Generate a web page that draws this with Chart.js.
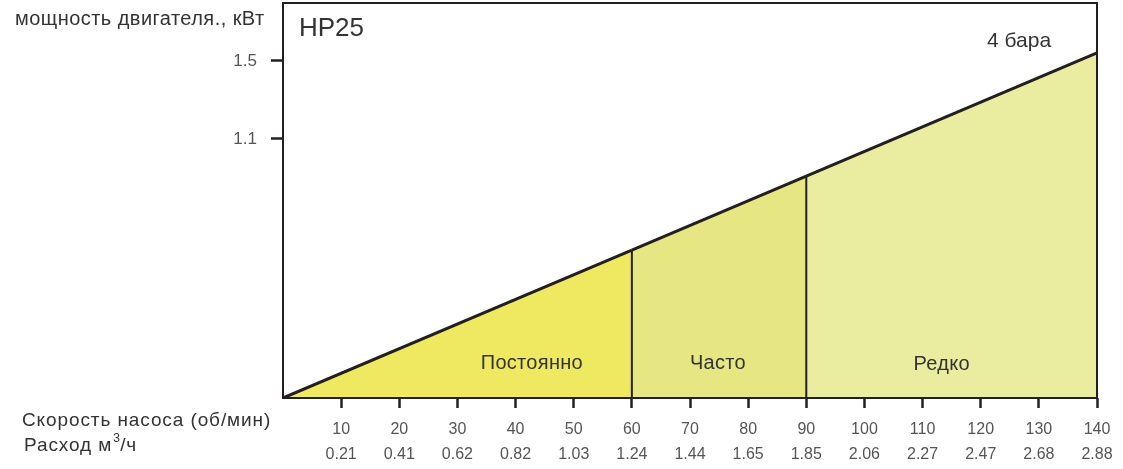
<!DOCTYPE html>
<html>
<head>
<meta charset="utf-8">
<script src="https://cdn.jsdelivr.net/npm/chart.js@4.4.1/dist/chart.umd.min.js"></script>
<style>
  html, body { margin: 0; padding: 0; background: #fff; }
  #wrap { width: 1123px; height: 469px; position: relative; }
</style>
</head>
<body>
<div id="wrap"><canvas id="hpChart"></canvas></div>
<script>
// speed (rev/min) and flow (m3/h) tick labels
const speedTicks = [10, 20, 30, 40, 50, 60, 70, 80, 90, 100, 110, 120, 130, 140];
const flowTicks = ['0.21', '0.41', '0.62', '0.82', '1.03', '1.24', '1.44', '1.65', '1.85', '2.06', '2.27', '2.47', '2.68', '2.88'];
const powerTicks = [1.1, 1.5];

// power curve (kW vs speed)
const curveSpeed = [0, 60, 90, 140];
const curvePower = [-0.228, 0.53, 0.909, 1.541];
const yMin = -0.228;
const yMax = 1.797;

const zoneNames = ['Постоянно', 'Часто', 'Редко'];
const zoneColors = ['#efe962', '#e6e683', '#eaec9f'];

const FONT = '"Liberation Sans", Arial, sans-serif';

const zones = [];
for (let i = 0; i < 3; i++) {
  zones.push({
    label: zoneNames[i],
    data: [
      { x: curveSpeed[i], y: curvePower[i] },
      { x: curveSpeed[i + 1], y: curvePower[i + 1] }
    ],
    backgroundColor: zoneColors[i],
    borderColor: '#231f20',
    borderWidth: 3,
    pointRadius: 0,
    fill: 'start',
    order: 2
  });
}

// vertical separators at 60 and 90
const dividers = [1, 2].map(i => ({
  label: 'div' + i,
  data: [{ x: curveSpeed[i], y: yMin }, { x: curveSpeed[i], y: curvePower[i] }],
  borderColor: '#231f20',
  borderWidth: 2,
  pointRadius: 0,
  fill: false,
  order: 1
}));

const annotations = [
  { text: 'Постоянно', x: 42.8, y: -0.05 },
  { text: 'Часто', x: 74.8, y: -0.05 },
  { text: 'Редко', x: 113.3, y: -0.055 }
];

function text(ctx, str, x, y, size, spacing) {
  ctx.font = size + 'px ' + FONT;
  ctx.letterSpacing = (spacing || 0) + 'px';
  ctx.fillText(str, x, y);
  const w = ctx.measureText(str).width;
  ctx.letterSpacing = '0px';
  return w;
}

const decor = {
  id: 'decor',
  afterDatasetsDraw(chart) {
    const { ctx, chartArea: a, scales } = chart;
    ctx.save();
    ctx.strokeStyle = '#231f20';
    ctx.lineWidth = 2;
    ctx.strokeRect(a.left, a.top, a.right - a.left, a.bottom - a.top);

    ctx.fillStyle = '#333';
    ctx.textBaseline = 'middle';
    ctx.textAlign = 'center';
    annotations.forEach(n => {
      text(ctx, n.text, scales.x.getPixelForValue(n.x), scales.y.getPixelForValue(n.y), 20, 0.3);
    });

    ctx.textAlign = 'left';
    text(ctx, 'HP25', 299, 29, 26, 0);
    text(ctx, '4 бара', 987, 41, 21, 0);

    text(ctx, 'мощность двигателя., кВт', 15, 19, 20, 0.45);
    text(ctx, 'Скорость насоса (об/мин)', 22, 421, 19, 0.9);
    const w = text(ctx, 'Расход м', 24, 446, 19, 0.9);
    text(ctx, '3', 24 + w + 1, 439, 12, 0);
    text(ctx, '/ч', 24 + w + 8, 446, 19, 0.9);
    ctx.restore();
  }
};

new Chart(document.getElementById('hpChart'), {
  type: 'line',
  data: { datasets: [...zones, ...dividers] },
  options: {
    responsive: true,
    maintainAspectRatio: false,
    animation: false,
    layout: { padding: { top: 3, right: 26, left: 0, bottom: 0 } },
    plugins: { legend: { display: false }, tooltip: { enabled: false } },
    scales: {
      x: {
        type: 'linear',
        min: 0,
        max: 140,
        afterBuildTicks: s => { s.ticks = speedTicks.map(v => ({ value: v })); },
        afterFit: s => { s.height = 71; s.paddingLeft = 0; s.paddingRight = 0; },
        border: { display: false },
        grid: { drawOnChartArea: false, tickLength: 10, tickWidth: 2.5, color: '#231f20' },
        ticks: {
          padding: 9,
          color: '#555',
          font: { family: FONT, size: 16, lineHeight: 1.55 },
          maxRotation: 0,
          autoSkip: false,
          callback: v => {
            const i = speedTicks.indexOf(v);
            return i < 0 ? '' : [String(v), flowTicks[i]];
          }
        }
      },
      y: {
        type: 'linear',
        min: yMin,
        max: yMax,
        afterBuildTicks: s => { s.ticks = powerTicks.map(v => ({ value: v })); },
        afterFit: s => { s.width = 283; s.paddingTop = 0; s.paddingBottom = 0; },
        border: { display: false },
        grid: { drawOnChartArea: false, tickLength: 12, tickWidth: 2.5, color: '#231f20' },
        ticks: {
          padding: 14,
          color: '#555',
          font: { family: FONT, size: 17 },
          callback: v => String(v)
        }
      }
    }
  },
  plugins: [decor]
});
</script>
</body>
</html>
